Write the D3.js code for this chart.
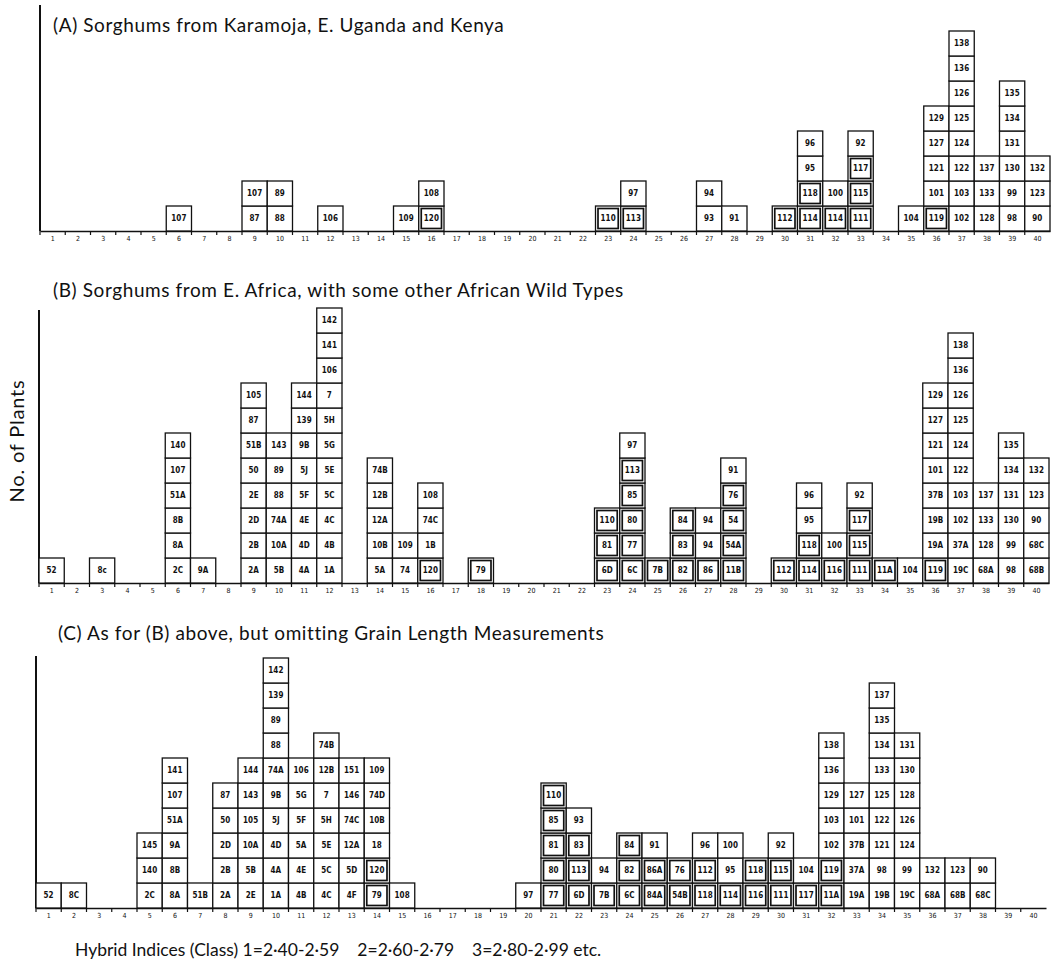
<!DOCTYPE html>
<html>
<head>
<meta charset="utf-8">
<script src="https://cdn.jsdelivr.net/npm/d3@7"></script>
<style>
  body { margin: 0; background: #fff; }
  text { fill: #111; }
</style>
</head>
<body>
<svg id="chart" width="1059" height="966"></svg>
<script>
// hybrid index classes along the bottom of each panel
const classes = d3.range(1, 41);

// plants per class, listed bottom -> top
const panelA = [
  [6, ["107"]],
  [9, ["87", "107"]],
  [10, ["88", "89"]],
  [12, ["106"]],
  [15, ["109"]],
  [16, ["120", "108"]],
  [23, ["110"]],
  [24, ["113", "97"]],
  [27, ["93", "94"]],
  [28, ["91"]],
  [30, ["112"]],
  [31, ["114", "118", "95", "96"]],
  [32, ["114", "100"]],
  [33, ["111", "115", "117", "92"]],
  [35, ["104"]],
  [36, ["119", "101", "121", "127", "129"]],
  [37, ["102", "103", "122", "124", "125", "126", "136", "138"]],
  [38, ["128", "133", "137"]],
  [39, ["98", "99", "130", "131", "134", "135"]],
  [40, ["90", "123", "132"]],
];

const panelB = [
  [1, ["52"]],
  [3, ["8c"]],
  [6, ["2C", "8A", "8B", "51A", "107", "140"]],
  [7, ["9A"]],
  [9, ["2A", "2B", "2D", "2E", "50", "51B", "87", "105"]],
  [10, ["5B", "10A", "74A", "88", "89", "143"]],
  [11, ["4A", "4D", "4E", "5F", "5J", "9B", "139", "144"]],
  [12, ["1A", "4B", "4C", "5C", "5E", "5G", "5H", "7", "106", "141", "142"]],
  [14, ["5A", "10B", "12A", "12B", "74B"]],
  [15, ["74", "109"]],
  [16, ["120", "1B", "74C", "108"]],
  [18, ["79"]],
  [23, ["6D", "81", "110"]],
  [24, ["6C", "77", "80", "85", "113", "97"]],
  [25, ["7B"]],
  [26, ["82", "83", "84"]],
  [27, ["86", "94", "94"]],
  [28, ["11B", "54A", "54", "76", "91"]],
  [30, ["112"]],
  [31, ["114", "118", "95", "96"]],
  [32, ["116", "100"]],
  [33, ["111", "115", "117", "92"]],
  [34, ["11A"]],
  [35, ["104"]],
  [36, ["119", "19A", "19B", "37B", "101", "121", "127", "129"]],
  [37, ["19C", "37A", "102", "103", "122", "124", "125", "126", "136", "138"]],
  [38, ["68A", "128", "133", "137"]],
  [39, ["98", "99", "130", "131", "134", "135"]],
  [40, ["68B", "68C", "90", "123", "132"]],
];

const panelC = [
  [1, ["52"]],
  [2, ["8C"]],
  [5, ["2C", "140", "145"]],
  [6, ["8A", "8B", "9A", "51A", "107", "141"]],
  [7, ["51B"]],
  [8, ["2A", "2B", "2D", "50", "87"]],
  [9, ["2E", "5B", "10A", "105", "143", "144"]],
  [10, ["1A", "4A", "4D", "5J", "9B", "74A", "88", "89", "139", "142"]],
  [11, ["4B", "4E", "5A", "5F", "5G", "106"]],
  [12, ["4C", "5C", "5E", "5H", "7", "12B", "74B"]],
  [13, ["4F", "5D", "12A", "74C", "146", "151"]],
  [14, ["79", "120", "18", "10B", "74D", "109"]],
  [15, ["108"]],
  [20, ["97"]],
  [21, ["77", "80", "81", "85", "110"]],
  [22, ["6D", "113", "83", "93"]],
  [23, ["7B", "94"]],
  [24, ["6C", "82", "84"]],
  [25, ["84A", "86A", "91"]],
  [26, ["54B", "76"]],
  [27, ["118", "112", "96"]],
  [28, ["114", "95", "100"]],
  [29, ["116", "118"]],
  [30, ["111", "115", "92"]],
  [31, ["117", "104"]],
  [32, ["11A", "119", "102", "103", "129", "136", "138"]],
  [33, ["19A", "37A", "37B", "101", "127"]],
  [34, ["19B", "98", "121", "122", "125", "133", "134", "135", "137"]],
  [35, ["19C", "99", "124", "126", "128", "130", "131"]],
  [36, ["68A", "132"]],
  [37, ["68B", "123"]],
  [38, ["68C", "90"]],
];

// plants drawn with a double (framed) box
const framed = ["76", "77", "78", "79", "80", "81", "82", "83", "84", "85", "86",
  "110", "111", "112", "113", "114", "115", "116", "117", "118", "119", "120",
  "6C", "6D", "7B", "54", "54A", "54B", "84A", "86A", "11A", "11B"];

const titles = [
  "(A) Sorghums from Karamoja, E. Uganda and Kenya",
  "(B) Sorghums from E. Africa, with some other African Wild Types",
  "(C) As for (B) above, but omitting Grain Length Measurements",
];
const yLabel = "No. of Plants";
const xLabel = "Hybrid Indices (Class) 1=2·40-2·59    2=2·60-2·79    3=2·80-2·99 etc.";

const svg = d3.select('#chart');
const col_w = 25.25;
const row_h = 25;
const max_rows = 11;
const font = "Lato, 'Open Sans', sans-serif";
const box_font = "'DejaVu Sans Condensed', 'Liberation Sans Narrow', sans-serif";

const layouts = [
  { x0: 40, base: 231, title_x: 53, title_y: 32, axis_top: 5 },
  { x0: 39, base: 583, title_x: 53, title_y: 297, axis_top: 310 },
  { x0: 36, base: 908, title_x: 58, title_y: 640, axis_top: 656 },
];

function draw_panel(stacks, title, lay) {
  const x = d3.scaleBand()
    .domain(classes)
    .range([lay.x0, lay.x0 + classes.length * col_w]);
  const y = d3.scaleLinear()
    .domain([0, max_rows])
    .range([lay.base, lay.base - max_rows * row_h]);

  const g = svg.append('g');

  g.append('text')
    .attr('x', lay.title_x)
    .attr('y', lay.title_y)
    .style('font-family', font)
    .style('font-size', '19px')
    .style('letter-spacing', '0.6px')
    .text(title);

  // left axis
  g.append('line')
    .attr('x1', lay.x0).attr('x2', lay.x0)
    .attr('y1', lay.axis_top).attr('y2', lay.base)
    .attr('stroke', '#111').attr('stroke-width', 2);

  // baseline with class labels
  const axis = g.append('g')
    .attr('transform', `translate(0,${lay.base})`)
    .call(d3.axisBottom(x).tickSize(0).tickPadding(5));
  axis.select('.domain')
    .attr('stroke', '#111').attr('stroke-width', 1.6);
  axis.selectAll('text')
    .style('font-family', box_font)
    .style('font-size', '7px')
    .attr('fill', '#111');

  g.append('g')
    .selectAll('line')
    .data(classes)
    .enter()
    .append('line')
    .attr('x1', d => x(d)).attr('x2', d => x(d))
    .attr('y1', lay.base).attr('y2', lay.base + 4)
    .attr('stroke', '#111').attr('stroke-width', 1.2);

  const cells = stacks.flatMap(([c, labels]) =>
    labels.map((label, i) => ({ c, i, label })));

  const box = g.selectAll('.box')
    .data(cells)
    .enter()
    .append('g')
    .attr('class', 'box')
    .attr('transform', d => `translate(${x(d.c)},${y(d.i + 1)})`);

  box.append('rect')
    .attr('width', x.bandwidth())
    .attr('height', y(0) - y(1))
    .attr('fill', '#fff')
    .attr('stroke', '#111')
    .attr('stroke-width', 1.3);

  box.filter(d => framed.includes(d.label))
    .append('rect')
    .attr('x', 2.5).attr('y', 2.5)
    .attr('width', x.bandwidth() - 5)
    .attr('height', y(0) - y(1) - 5)
    .attr('fill', 'none')
    .attr('stroke', '#111')
    .attr('stroke-width', 1.7);

  box.append('text')
    .attr('x', x.bandwidth() / 2)
    .attr('y', (y(0) - y(1)) / 2)
    .attr('dy', '0.35em')
    .attr('text-anchor', 'middle')
    .style('font-family', box_font)
    .style('font-size', '8px')
    .style('font-weight', 'bold')
    .text(d => d.label);
}

[panelA, panelB, panelC].forEach((p, i) => draw_panel(p, titles[i], layouts[i]));

svg.append('text')
  .attr('transform', 'translate(24,441) rotate(-90)')
  .attr('text-anchor', 'middle')
  .style('font-family', font)
  .style('font-size', '20px')
  .style('letter-spacing', '0.8px')
  .text(yLabel);

svg.append('text')
  .attr('x', 75)
  .attr('y', 956)
  .style('font-family', font)
  .style('font-size', '17.5px')
  .style('white-space', 'pre')
  .text(xLabel);
</script>
</body>
</html>
